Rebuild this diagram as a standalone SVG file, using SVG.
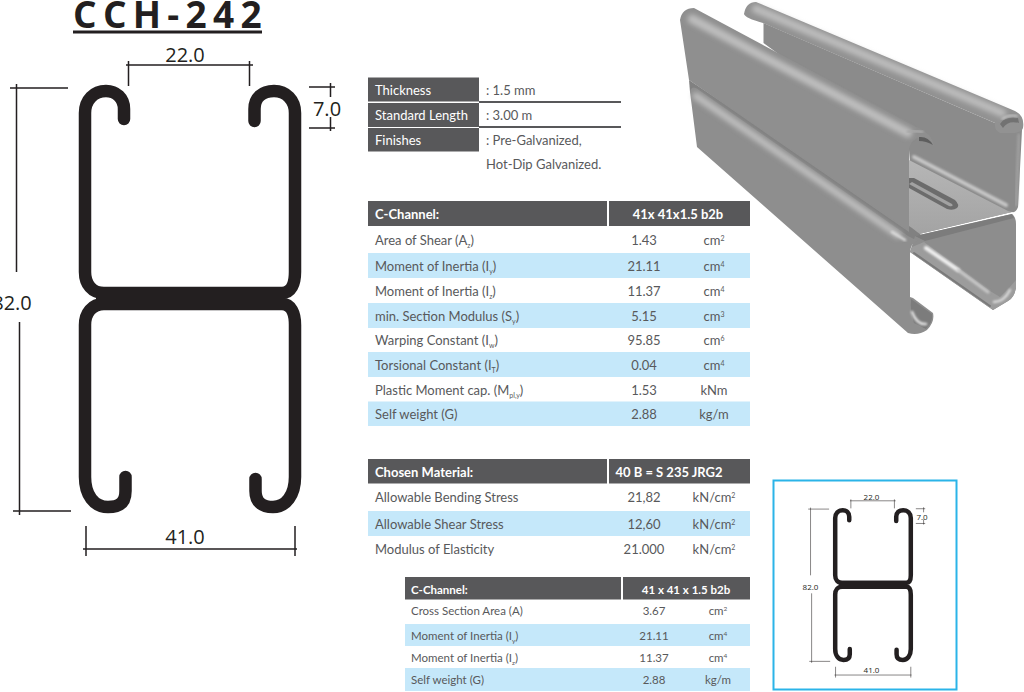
<svg xmlns="http://www.w3.org/2000/svg" width="1024" height="692" viewBox="0 0 1024 692">
<style>
text{font-family:"Lato","Carlito","Liberation Sans",sans-serif;fill:#58595b}
.t{font-size:13px}
.s{font-size:11.5px}
.b{font-weight:700;fill:#fff}
.m{text-anchor:middle}
.hd{fill:#58585a}
.bl{fill:#c5e8fa}
.dim{font-family:"Open Sans",sans-serif;fill:#231f20;font-size:20px;text-anchor:middle}
.dims{font-family:"Open Sans",sans-serif;fill:#231f20;font-size:8px;text-anchor:middle}
.p{fill:none;stroke:#231f20;stroke-width:12.5;stroke-linecap:round;stroke-linejoin:round}
.d{fill:none;stroke:#231f20;stroke-width:1.5}
.hl{fill:none;stroke-linecap:round}
</style>
<defs>
<g id="profile">
<path class="p" d="M124,119V109C124,98 116,91 106,91C94,91 85,100 85,113V272C85,284 92,293 104,293H282C291,293 295,284 295,272V113C295,100 286,91 274,91C262,91 254.500,98 254.500,109V121"/>
<path class="p" d="M295,325C295,313 291,304 282,304H104C92,304 85,313 85,325V477C85,495 94,507 108,507C120,507 125.500,502 125.500,491V477M295,325V477C295,495 286,507 273,507C262,507 255.500,502 255.500,491V479"/>
<rect x="96" y="287" width="188" height="23" fill="#231f20"/>
</g>
<g id="dims">
<path class="d" d="M126,65H253M128.500,61V86M249.500,61V86"/>
<path class="d" d="M309,87H335M309,128H335M330.500,83V97M330.500,117V131"/>
<path class="d" d="M10,88H68M16.500,84V272M13,511H71M19.500,322V515"/>
<path class="d" d="M83,549H297M86,526V556M295,526V556"/>
</g>
<filter id="b3" x="-20%" y="-20%" width="140%" height="140%"><feGaussianBlur stdDeviation="2.500"/></filter>
<filter id="b1" x="-20%" y="-20%" width="140%" height="140%"><feGaussianBlur stdDeviation="1"/></filter>
<linearGradient id="plate" x1="0" y1="0" x2="0" y2="1"><stop offset="0" stop-color="#b6b6b6"/><stop offset="1" stop-color="#a3a3a3"/></linearGradient>
</defs>

<g id="title">
<text x="73" y="28" style="font-family:'Open Sans',sans-serif;font-weight:700;font-size:37px;letter-spacing:6.300px;fill:#231f20">CCH-242</text>
<rect x="73" y="30.500" width="189" height="3" fill="#231f20"/>
</g>

<g id="section-drawing">
<use href="#profile"/>
<use href="#dims"/>
<text class="dim" x="185" y="62">22.0</text>
<text class="dim" x="327" y="116">7.0</text>
<text class="dim" x="12" y="310">82.0</text>
<text class="dim" x="185" y="544">41.0</text>
</g>

<g id="spec-table">
<rect class="hd" x="368" y="77.500" width="111" height="24"/>
<rect class="hd" x="368" y="103" width="111" height="24"/>
<rect class="hd" x="368" y="128" width="111" height="23.500"/>
<path d="M479,102H621M479,127H621" fill="none" stroke="#58585a" stroke-width="2"/>
<text class="t b" style="font-weight:400" x="375" y="95">Thickness</text>
<text class="t b" style="font-weight:400" x="375" y="120">Standard Length</text>
<text class="t b" style="font-weight:400" x="375" y="145">Finishes</text>
<text class="t" x="486" y="95">: 1.5 mm</text>
<text class="t" x="486" y="120">: 3.00 m</text>
<text class="t" x="486" y="145">: Pre-Galvanized,</text>
<text class="t" x="486" y="169">Hot-Dip Galvanized.</text>
</g>

<g id="table-section">
<rect class="hd" x="368" y="201" width="239" height="25"/>
<rect class="hd" x="609" y="201" width="141" height="25"/>
<rect class="bl" x="368" y="253" width="382" height="25"/>
<rect class="bl" x="368" y="303" width="382" height="25"/>
<rect class="bl" x="368" y="352" width="382" height="25"/>
<rect class="bl" x="368" y="401.500" width="382" height="24.500"/>
<text class="t b" x="375" y="219">C-Channel:</text>
<text class="t b m" x="678" y="219">41x 41x1.5 b2b</text>
<text class="t" x="375" y="245">Area of Shear (A<tspan font-size="7" dy="3">z</tspan><tspan dy="-3">)</tspan></text>
<text class="t m" x="644" y="245">1.43</text>
<text class="t m" x="714" y="245">cm<tspan font-size="7" dy="-4">2</tspan></text>
<text class="t" x="375" y="271">Moment of Inertia (I<tspan font-size="7" dy="3">y</tspan><tspan dy="-3">)</tspan></text>
<text class="t m" x="644" y="271">21.11</text>
<text class="t m" x="714" y="271">cm<tspan font-size="7" dy="-4">4</tspan></text>
<text class="t" x="375" y="296">Moment of Inertia (I<tspan font-size="7" dy="3">z</tspan><tspan dy="-3">)</tspan></text>
<text class="t m" x="644" y="296">11.37</text>
<text class="t m" x="714" y="296">cm<tspan font-size="7" dy="-4">4</tspan></text>
<text class="t" x="375" y="320.500">min. Section Modulus (S<tspan font-size="7" dy="3">y</tspan><tspan dy="-3">)</tspan></text>
<text class="t m" x="644" y="320.500">5.15</text>
<text class="t m" x="714" y="320.500">cm<tspan font-size="7" dy="-4">3</tspan></text>
<text class="t" x="375" y="345">Warping Constant (I<tspan font-size="7" dy="3">w</tspan><tspan dy="-3">)</tspan></text>
<text class="t m" x="644" y="345">95.85</text>
<text class="t m" x="714" y="345">cm<tspan font-size="7" dy="-4">6</tspan></text>
<text class="t" x="375" y="370">Torsional Constant (I<tspan font-size="7" dy="3">T</tspan><tspan dy="-3">)</tspan></text>
<text class="t m" x="644" y="370">0.04</text>
<text class="t m" x="714" y="370">cm<tspan font-size="7" dy="-4">4</tspan></text>
<text class="t" x="375" y="394.500">Plastic Moment cap. (M<tspan font-size="7" dy="3">pl,y</tspan><tspan dy="-3">)</tspan></text>
<text class="t m" x="644" y="394.500">1.53</text>
<text class="t m" x="714" y="394.500">kNm</text>
<text class="t" x="375" y="419">Self weight (G)</text>
<text class="t m" x="644" y="419">2.88</text>
<text class="t m" x="714" y="419">kg/m</text>
</g>

<g id="table-material">
<rect class="hd" x="368" y="459" width="239" height="24.500"/>
<rect class="hd" x="609" y="459" width="141" height="24.500"/>
<rect class="bl" x="368" y="511" width="382" height="25"/>
<text class="t b" x="375" y="477">Chosen Material:</text>
<text class="t b m" x="669" y="477">40 B = S 235 JRG2</text>
<text class="t" x="375" y="502">Allowable Bending Stress</text>
<text class="t m" x="644" y="502">21,82</text>
<text class="t m" x="714" y="502">kN/cm<tspan font-size="7" dy="-4">2</tspan></text>
<text class="t" x="375" y="529">Allowable Shear Stress</text>
<text class="t m" x="644" y="529">12,60</text>
<text class="t m" x="714" y="529">kN/cm<tspan font-size="7" dy="-4">2</tspan></text>
<text class="t" x="375" y="554">Modulus of Elasticity</text>
<text class="t m" x="644" y="554">21.000</text>
<text class="t m" x="714" y="554">kN/cm<tspan font-size="7" dy="-4">2</tspan></text>
</g>

<g id="table-gross">
<rect class="hd" x="405" y="577" width="216" height="22.500"/>
<rect class="hd" x="623" y="577" width="127" height="22.500"/>
<rect class="bl" x="405" y="624" width="345" height="22"/>
<rect class="bl" x="405" y="668" width="345" height="23"/>
<text class="s b" x="411" y="594">C-Channel:</text>
<text class="s b m" x="686" y="594">41 x 41 x 1.5 b2b</text>
<text class="s" x="411" y="615">Cross Section Area (A)</text>
<text class="s m" x="654" y="615">3.67</text>
<text class="s m" x="718" y="615">cm<tspan font-size="6.500" dy="-4">2</tspan></text>
<text class="s" x="411" y="640">Moment of Inertia (I<tspan font-size="6.500" dy="3">y</tspan><tspan dy="-3">)</tspan></text>
<text class="s m" x="654" y="640">21.11</text>
<text class="s m" x="718" y="640">cm<tspan font-size="6.500" dy="-4">4</tspan></text>
<text class="s" x="411" y="662">Moment of Inertia (I<tspan font-size="6.500" dy="3">z</tspan><tspan dy="-3">)</tspan></text>
<text class="s m" x="654" y="662">11.37</text>
<text class="s m" x="718" y="662">cm<tspan font-size="6.500" dy="-4">4</tspan></text>
<text class="s" x="411" y="684">Self weight (G)</text>
<text class="s m" x="654" y="684">2.88</text>
<text class="s m" x="718" y="684">kg/m</text>
</g>

<g id="channel-3d">
<path fill="#8b8b8b" d="M763.500,23L995,123L1022,130L1018,207Q1016,213 1012,212L915,235L909,150L763.500,43Z"/>
<path fill="url(#plate)" d="M909,160L1008,211L1012,212L915,235Q910,232 909,228Z"/>
<path class="hl" stroke="#c6c6c6" stroke-width="4" filter="url(#b1)" d="M914,157L1006,205"/>
<path class="hl" stroke="#9f9f9f" stroke-width="3" filter="url(#b1)" d="M1019,135L1016,205"/>
<path fill="#6c6c6c" d="M909,178H914L955,200Q960,205 957,208Q953,211 947,209L909,188Z"/>
<path fill="#a2a2a2" d="M909,184L949,206Q954,207 952,204L912,182Z"/>
<path fill="#929292" d="M744,14Q746,2 756,2L1015,111Q1025,116 1023,128Q1022,133 1010,133H1000Q994,130 995,123L763,23Q745,18 744,14Z"/>
<path class="hl" stroke="#bcbcbc" stroke-width="8" filter="url(#b3)" d="M756,9L1002,113"/>
<path fill="#727272" d="M1000,124Q1005,116 1018,118L1019,123Q1008,120 1003,128Z"/>
<path class="hl" stroke="#d0d0d0" stroke-width="1.500" filter="url(#b1)" d="M1002,119Q1009,114 1017,116"/>
<path fill="#818181" d="M689,80L912,228L925,238L908,243L690,92Z"/>
<path fill="#8f8f8f" d="M680,20Q682,8 694,8L916,127Q932,133 934,146L928,142Q920,134 914,140Q909,145 909,150V232L689,80Z"/>
<path class="hl" stroke="#bdbdbd" stroke-width="9" filter="url(#b3)" d="M692,19L908,133"/>
<path class="hl" stroke="#a8a8a8" stroke-width="3" filter="url(#b1)" d="M908,132Q911,130 922,132"/>
<path fill="#5e5e5e" d="M919,137Q928,136 933,145Q926,141 919,141Z"/>
<path fill="#8d8d8d" d="M915,236L1012,214Q1016,217 1016,224V288Q1014,298 1008,301L993,310L910,252Z"/>
<path fill="#7c7c7c" d="M915,236L1012,214L1014,218L925,241Z"/>
<path class="hl" stroke="#a2a2a2" stroke-width="2.500" filter="url(#b1)" d="M1014,224V285"/>
<path fill="#9c9c9c" d="M912,247L924,242L990,291L1000,297L1009,288L1016,280V288Q1014,298 1008,301L993,310L910,252Z"/>
<path class="hl" stroke="#eeeeee" stroke-width="4" filter="url(#b1)" d="M926,248L958,270"/>
<path class="hl" stroke="#c8c8c8" stroke-width="3" filter="url(#b1)" d="M958,270L988,292"/>
<path class="hl" stroke="#7a7a7a" stroke-width="2" d="M914,253L990,306"/>
<path class="hl" stroke="#dcdcdc" stroke-width="2.500" filter="url(#b1)" d="M994,302Q1004,302 1010,290"/>
<path fill="#8e8e8e" d="M690,92Q691,86 696,88L908,236Q913,239 918,240Q911,243 910,252V297L913,298L933,313Q935,322 927,330Q918,336 908,333L697,147Z"/>
<path class="hl" stroke="#bdbdbd" stroke-width="7" filter="url(#b3)" d="M696,96L898,235"/>
<path class="hl" stroke="#dedede" stroke-width="2.500" filter="url(#b1)" d="M892,232L905,240"/>
<path fill="#7c7c7c" d="M911,299L932,314Q933,322 926,329L914,323Q910,312 911,299Z"/>
<path class="hl" stroke="#e2e2e2" stroke-width="2.500" filter="url(#b1)" d="M912,312Q917,325 926,324"/>
</g>

<g id="thumbnail">
<rect x="773.500" y="480.500" width="183" height="209" fill="#fff" stroke="#2bb4e8" stroke-width="2"/>
<g transform="translate(804.600,477.400) scale(.36)">
<use href="#profile"/>
<use href="#dims"/>
</g>
<text class="dims" x="871.500" y="500">22.0</text>
<text class="dims" x="922" y="520">7.0</text>
<text class="dims" x="810.500" y="590">82.0</text>
<text class="dims" x="871.500" y="673">41.0</text>
</g>
</svg>
